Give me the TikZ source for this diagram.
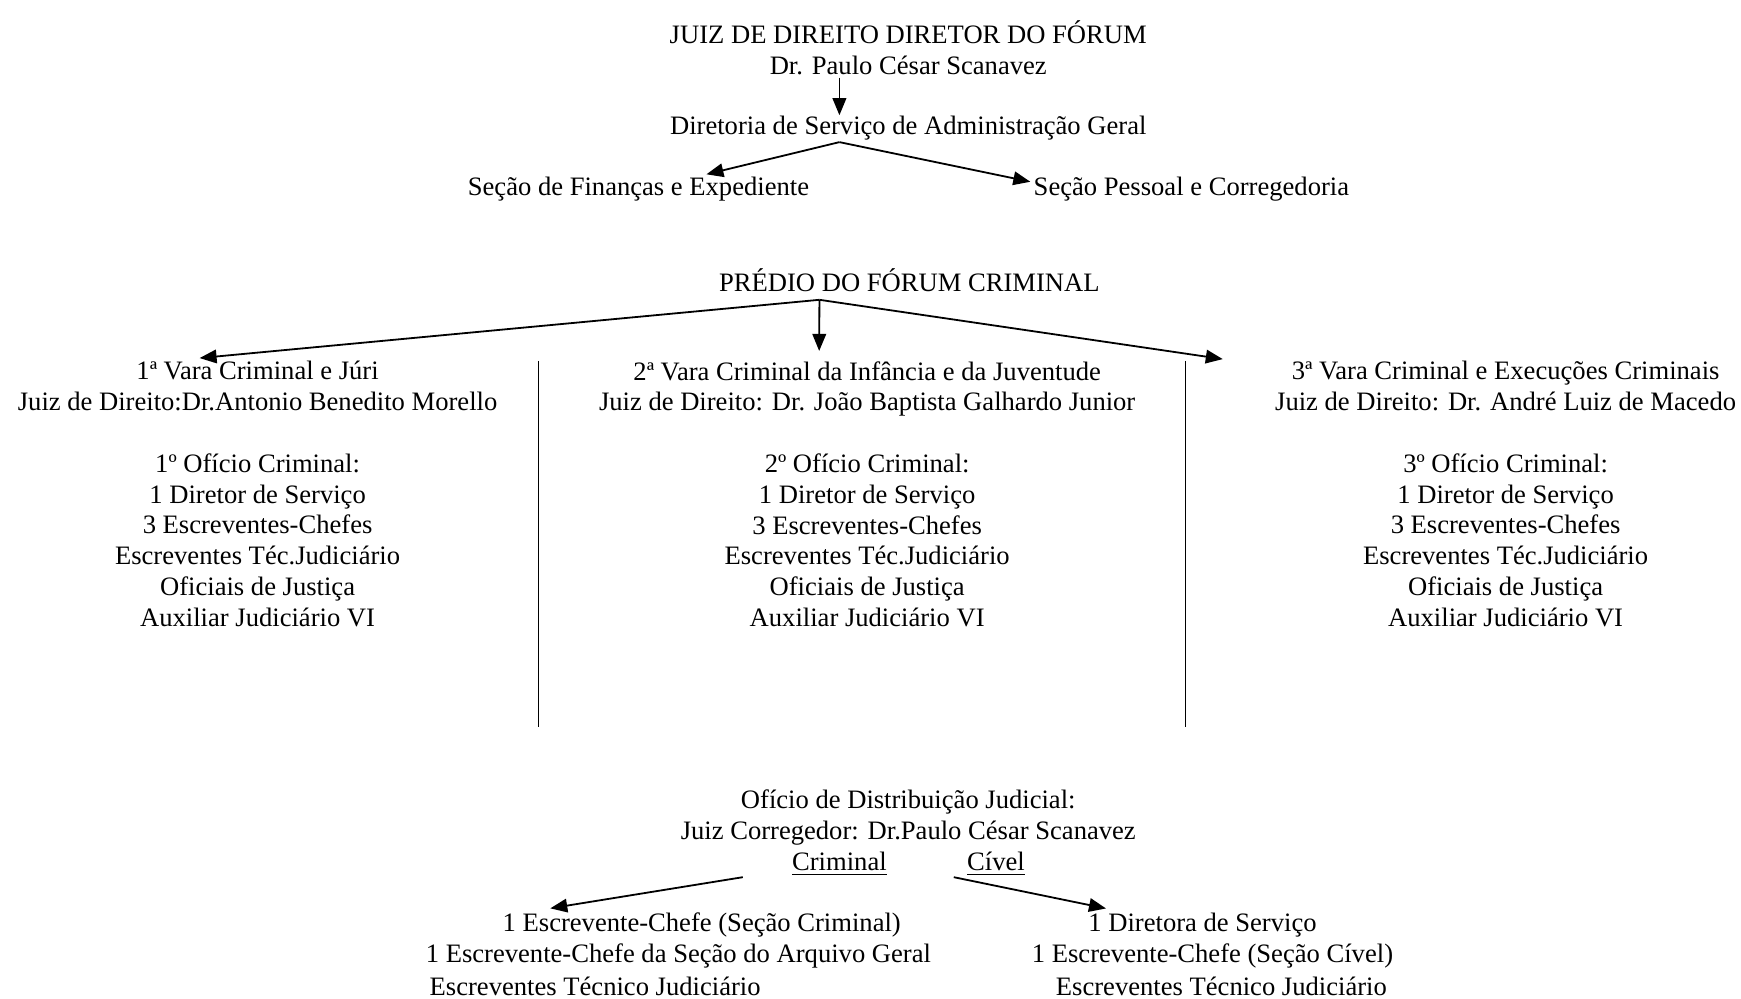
\documentclass[tikz,border=0pt]{standalone}
\usepackage{fontspec}
\setmainfont{Liberation Serif}
\usetikzlibrary{arrows.meta}

\begin{document}
\begin{tikzpicture}[x=0.5552pt,y=-0.5552pt,
    every node/.style={inner sep=0pt,align=center,font=\fontsize{13.3}{15.4}\selectfont},
    arr/.style={-{Triangle[length=8.5pt,width=6.8pt]},line width=0.9pt}]

    \useasboundingbox (0,0) rectangle (1568,899);
    \node (J) at (818,43) {JUIZ DE DIREITO DIRETOR DO FÓRUM\\Dr. Paulo César Scanavez};
    \node (D) at (818,115) {Diretoria de Serviço de Administração Geral};
    \node (F) at (575,170) {Seção de Finanças e Expediente};
    \node (P) at (1073,170) {Seção Pessoal e Corregedoria};
    \node (PR) at (819,252) {PRÉDIO DO FÓRUM CRIMINAL};
    \node (V1) at (232,445) {1ª Vara Criminal e Júri\\Juiz de Direito:Dr.Antonio Benedito Morello\\[15.4pt]1º Ofício Criminal:\\1 Diretor de Serviço\\3 Escreventes-Chefes\\Escreventes Téc.Judiciário\\Oficiais de Justiça\\Auxiliar Judiciário VI};
    \node (V2) at (781,445) {2ª Vara Criminal da Infância e da Juventude\\Juiz de Direito: Dr. João Baptista Galhardo Junior\\[15.4pt]2º Ofício Criminal:\\1 Diretor de Serviço\\3 Escreventes-Chefes\\Escreventes Téc.Judiciário\\Oficiais de Justiça\\Auxiliar Judiciário VI};
    \node (V3) at (1356,445) {3ª Vara Criminal e Execuções Criminais\\Juiz de Direito: Dr. André Luiz de Macedo\\[15.4pt]3º Ofício Criminal:\\1 Diretor de Serviço\\3 Escreventes-Chefes\\Escreventes Téc.Judiciário\\Oficiais de Justiça\\Auxiliar Judiciário VI};
    \node (O) at (818,736) {Ofício de Distribuição Judicial:\\Juiz Corregedor: Dr.Paulo César Scanavez};
    \node (C) at (756,778) {\underline{Criminal}};
    \node (CV) at (897,778) {\underline{Cível}};
    \node (E1) at (632,833) {1 Escrevente-Chefe (Seção Criminal)};
    \node (E2) at (611,861) {1 Escrevente-Chefe da Seção do Arquivo Geral};
    \node (E3) at (536,888) {Escreventes Técnico Judiciário};
    \node (R1) at (1083,833) {1 Diretora de Serviço};
    \node (R2) at (1092,861) {1 Escrevente-Chefe (Seção Cível)};
    \node (R3) at (1100,888) {Escreventes Técnico Judiciário};
    \coordinate (jt) at (756,70);
    \coordinate (df) at (756,128);
    \coordinate (pf) at (738,270);
    \coordinate (ct) at (669,790);
    \coordinate (vt) at (859,790);
    \draw[arr] (jt) -- (jt |- D.north);
    \draw[arr] (df) -- ([xshift=34pt,yshift=1pt]F.north);
    \draw[arr] (df) -- ([xshift=-1.5pt,yshift=3.5pt]P.west);
    \draw[arr] (pf) -- ([xshift=-29pt,yshift=1.5pt]V1.north);
    \draw[arr] (pf) -- ([xshift=-24pt,yshift=5pt]V2.north);
    \draw[arr] (pf) -- ([xshift=-26pt,yshift=1pt]V3.north west);
    \draw[arr] (ct) -- ([xshift=24pt,yshift=2pt]E1.north west);
    \draw[arr] (vt) -- ([xshift=9pt,yshift=2pt]R1.north west);
    \draw[line width=0.6pt] (485,325) -- (485,655);
    \draw[line width=0.6pt] (1068,325) -- (1068,655);
        \end{tikzpicture}
\end{document}
